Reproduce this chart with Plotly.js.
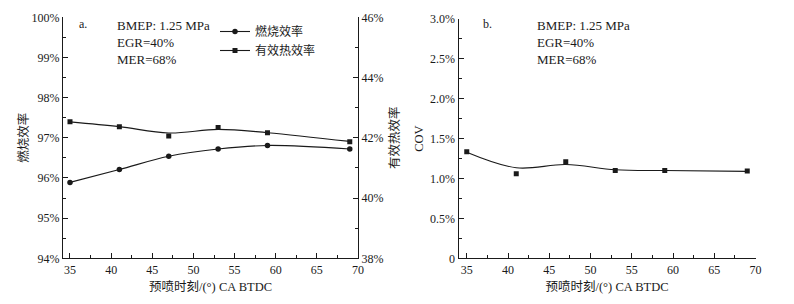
<!DOCTYPE html>
<html>
<head>
<meta charset="utf-8">
<script src="https://cdn.plot.ly/plotly-3.0.1.min.js"></script>
<style>
html,body{margin:0;padding:0;background:#fff;}
#chart{width:794px;height:304px;}
</style>
</head>
<body>
<div id="chart"></div>
<script>
// Injection timing, degrees CA BTDC
var timing = [35, 41, 47, 53, 59, 69];

// Panel a: combustion efficiency (%) - left axis
var combEff = [95.89, 96.21, 96.54, 96.72, 96.81, 96.72];
var combEffFit = [95.89, 96.21, 96.54, 96.72, 96.81, 96.72];
// Panel a: brake thermal efficiency (%) - right axis
var thermEff = [42.53, 42.37, 42.06, 42.34, 42.17, 41.87];
var thermEffFit = [42.53, 42.37, 42.16, 42.28, 42.17, 41.88];

// Panel b: COV (%)
var cov = [1.335, 1.06, 1.21, 1.10, 1.10, 1.094];
var covFit = [1.33, 1.135, 1.175, 1.11, 1.10, 1.09];

var nameComb = '燃烧效率';
var nameTherm = '有效热效率';
var xTitle = '预喷时刻/(°) CA BTDC';
var infoLines = ['BMEP: 1.25 MPa', 'EGR=40%', 'MER=68%'];

var leftTickVals = [94, 95, 96, 97, 98, 99, 100];
var leftTickText = ['94%', '95%', '96%', '97%', '98%', '99%', '100%'];
var rightTickVals = [38, 40, 42, 44, 46];
var rightTickText = ['38%', '40%', '42%', '44%', '46%'];
var covTickVals = [0, 0.5, 1.0, 1.5, 2.0, 2.5, 3.0];
var covTickText = ['0', '0.5%', '1.0%', '1.5%', '2.0%', '2.5%', '3.0%'];

var FONT = '"Liberation Serif", "Times New Roman", "Noto Sans CJK SC", serif';
var INK = '#1a1a1a';

var traces = [
  {x: timing, y: combEffFit, mode: 'lines', line: {color: INK, width: 1.1, shape: 'spline'}, xaxis: 'x', yaxis: 'y', showlegend: false, hoverinfo: 'skip'},
  {x: timing, y: combEff, mode: 'markers', marker: {symbol: 'circle', size: 5.5, color: INK}, xaxis: 'x', yaxis: 'y', showlegend: false},
  {x: timing, y: thermEffFit, mode: 'lines', line: {color: INK, width: 1.1, shape: 'spline'}, xaxis: 'x', yaxis: 'y2', showlegend: false, hoverinfo: 'skip'},
  {x: timing, y: thermEff, mode: 'markers', marker: {symbol: 'square', size: 5, color: INK}, xaxis: 'x', yaxis: 'y2', showlegend: false},
  // legend entries
  {x: [null], y: [null], mode: 'lines+markers', name: nameComb, line: {color: INK, width: 1.1}, marker: {symbol: 'circle', size: 5.5, color: INK}, xaxis: 'x', yaxis: 'y', showlegend: true},
  {x: [null], y: [null], mode: 'lines+markers', name: nameTherm, line: {color: INK, width: 1.1}, marker: {symbol: 'square', size: 5, color: INK}, xaxis: 'x', yaxis: 'y2', showlegend: true},
  // panel b
  {x: timing, y: covFit, mode: 'lines', line: {color: INK, width: 1.1, shape: 'spline'}, xaxis: 'x2', yaxis: 'y3', showlegend: false, hoverinfo: 'skip'},
  {x: timing, y: cov, mode: 'markers', marker: {symbol: 'square', size: 5, color: INK}, xaxis: 'x2', yaxis: 'y3', showlegend: false}
];

var tickFont = {family: FONT, size: 12, color: INK};
var titleFont = {family: FONT, size: 12.5, color: INK};

function xAxis(domain, range, anchor) {
  return {
    domain: domain, range: range, anchor: anchor,
    tickvals: [35, 40, 45, 50, 55, 60, 65, 70],
    ticks: 'inside', ticklen: 5, tickwidth: 1, tickcolor: INK,
    minor: {dtick: 2.5, tick0: 35, ticks: 'inside', ticklen: 3, tickcolor: INK},
    showline: true, linecolor: INK, linewidth: 1, mirror: false,
    showgrid: false, zeroline: false, tickfont: tickFont,
    title: {text: xTitle, font: titleFont, standoff: 6}
  };
}

var infoFont = {family: FONT, size: 13, color: INK};

var layout = {
  width: 794, height: 304,
  margin: {l: 0, r: 0, t: 0, b: 0},
  paper_bgcolor: '#fff', plot_bgcolor: '#fff',
  font: {family: FONT, color: INK},
  showlegend: true,
  legend: {
    x: 215 / 794, xanchor: 'left', y: (304 - 17) / 304, yanchor: 'top',
    bgcolor: 'rgba(0,0,0,0)', font: {family: FONT, size: 12, color: INK},
    tracegroupgap: 0, itemwidth: 30
  },
  xaxis: xAxis([63 / 794, 358 / 794], [34.15, 70], 'y'),
  yaxis: {
    domain: [45.7 / 304, 286.7 / 304], range: [94, 100],
    tickvals: leftTickVals, ticktext: leftTickText,
    ticks: 'inside', ticklen: 5, tickcolor: INK,
    minor: {dtick: 0.5, tick0: 94, ticks: 'inside', ticklen: 3, tickcolor: INK},
    showline: true, linecolor: INK, linewidth: 1,
    showgrid: false, zeroline: false, tickfont: tickFont,
    title: {text: nameComb, font: titleFont}
  },
  yaxis2: {
    overlaying: 'y', side: 'right', anchor: 'x', range: [38, 46],
    tickvals: rightTickVals, ticktext: rightTickText,
    ticks: 'inside', ticklen: 5, tickcolor: INK,
    minor: {dtick: 1, tick0: 38, ticks: 'inside', ticklen: 3, tickcolor: INK},
    showline: true, linecolor: INK, linewidth: 1,
    showgrid: false, zeroline: false, tickfont: tickFont,
    title: {text: nameTherm, font: titleFont}
  },
  xaxis2: xAxis([458.5 / 794, 755.5 / 794], [34, 70], 'y3'),
  yaxis3: {
    domain: [45.7 / 304, 285 / 304], range: [0, 3], anchor: 'x2',
    tickvals: covTickVals, ticktext: covTickText,
    ticks: 'inside', ticklen: 5, tickcolor: INK,
    minor: {dtick: 0.25, tick0: 0, ticks: 'inside', ticklen: 3, tickcolor: INK},
    showline: true, linecolor: INK, linewidth: 1,
    showgrid: false, zeroline: false, tickfont: tickFont,
    title: {text: 'COV', font: titleFont}
  },
  annotations: [
    {xref: 'paper', yref: 'paper', x: 77 / 794, y: (304 - 24) / 304, xanchor: 'left', yanchor: 'middle', text: 'a.', showarrow: false, font: {family: FONT, size: 12, color: INK}},
    {xref: 'paper', yref: 'paper', x: 115 / 794, y: (304 - 25) / 304, xanchor: 'left', yanchor: 'middle', text: infoLines[0], showarrow: false, font: infoFont},
    {xref: 'paper', yref: 'paper', x: 115 / 794, y: (304 - 42.5) / 304, xanchor: 'left', yanchor: 'middle', text: infoLines[1], showarrow: false, font: infoFont},
    {xref: 'paper', yref: 'paper', x: 115 / 794, y: (304 - 60) / 304, xanchor: 'left', yanchor: 'middle', text: infoLines[2], showarrow: false, font: infoFont},
    {xref: 'paper', yref: 'paper', x: 481 / 794, y: (304 - 24) / 304, xanchor: 'left', yanchor: 'middle', text: 'b.', showarrow: false, font: {family: FONT, size: 12, color: INK}},
    {xref: 'paper', yref: 'paper', x: 535 / 794, y: (304 - 25) / 304, xanchor: 'left', yanchor: 'middle', text: infoLines[0], showarrow: false, font: infoFont},
    {xref: 'paper', yref: 'paper', x: 535 / 794, y: (304 - 42.5) / 304, xanchor: 'left', yanchor: 'middle', text: infoLines[1], showarrow: false, font: infoFont},
    {xref: 'paper', yref: 'paper', x: 535 / 794, y: (304 - 60) / 304, xanchor: 'left', yanchor: 'middle', text: infoLines[2], showarrow: false, font: infoFont}
  ]
};

Plotly.newPlot('chart', traces, layout, {staticPlot: true, displayModeBar: false});
</script>
</body>
</html>
